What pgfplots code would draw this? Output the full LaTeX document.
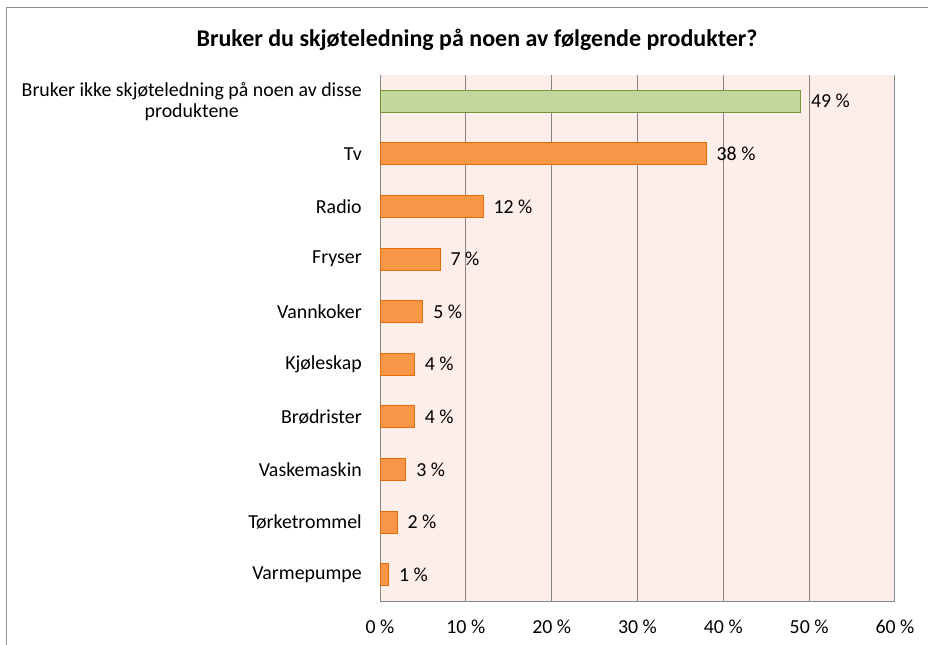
\documentclass[border=0pt]{standalone}
\usepackage{pgfplots}
\pgfplotsset{compat=1.18}
\usepackage{fontspec}
\setmainfont{Carlito}
\definecolor{bgpink}{RGB}{253,238,234}
\definecolor{barorange}{RGB}{247,150,70}
\definecolor{borderorange}{RGB}{228,108,10}
\definecolor{bargreen}{RGB}{195,214,155}
\definecolor{bordergreen}{RGB}{119,147,60}
\definecolor{gridgray}{RGB}{134,134,134}
\definecolor{framegray}{RGB}{140,140,140}
\begin{document}
\begin{tikzpicture}
\path[use as bounding box] (0pt,0pt) rectangle (696pt,483.75pt);
\draw[framegray, line width=0.75pt] (4.5pt,0pt) -- (4.5pt,477.75pt) -- (696pt,477.75pt);
\node[font=\fontsize{18}{20}\selectfont\bfseries] at (357.75pt,453.75pt) {Bruker du skjøteledning på noen av følgende produkter?};
\begin{axis}[
  at={(285pt,33pt)}, anchor=south west,
  scale only axis, width=386.25pt, height=394.5pt,
  xbar, bar width=16.5pt, bar shift=0pt,
  xmin=0, xmax=60, ymin=-0.5, ymax=9.5, y dir=reverse,
  xtick={0,10,...,60},
  ytick={0,...,9},
  yticklabels={{Bruker ikke skjøteledning på noen av disse\\produktene},Tv,Radio,Fryser,Vannkoker,Kjøleskap,Brødrister,Vaskemaskin,Tørketrommel,Varmepumpe},
  axis x line*=bottom, axis y line*=left,
  axis line style={gridgray, line width=0.75pt, -},
  xmajorgrids, major grid style={gridgray, line width=0.75pt},
  major tick length=0pt,
  /pgf/number format/assume math mode=true,
  xticklabel={\pgfmathprintnumber{\tick} \%},
  tick label style={font=\fontsize{14.9}{15.75}\selectfont, inner sep=0pt},
  yticklabel style={align=center, anchor=east, xshift=-13.5pt},
  xticklabel style={anchor=north, yshift=-14pt},
  axis background/.style={fill=bgpink},
  nodes near coords={\pgfmathprintnumber{\pgfplotspointmeta} \%},
  nodes near coords style={font=\fontsize{14.9}{16}\selectfont, anchor=west, inner sep=0pt, xshift=7.5pt, text=black},
]
\addplot[fill=bargreen, draw=bordergreen, line width=0.75pt] coordinates {(49,0)};
\addplot[fill=barorange, draw=borderorange, line width=0.75pt] coordinates {(38,1) (12,2) (7,3) (5,4) (4,5) (4,6) (3,7) (2,8) (1,9)};
\end{axis}
\end{tikzpicture}
\end{document}
